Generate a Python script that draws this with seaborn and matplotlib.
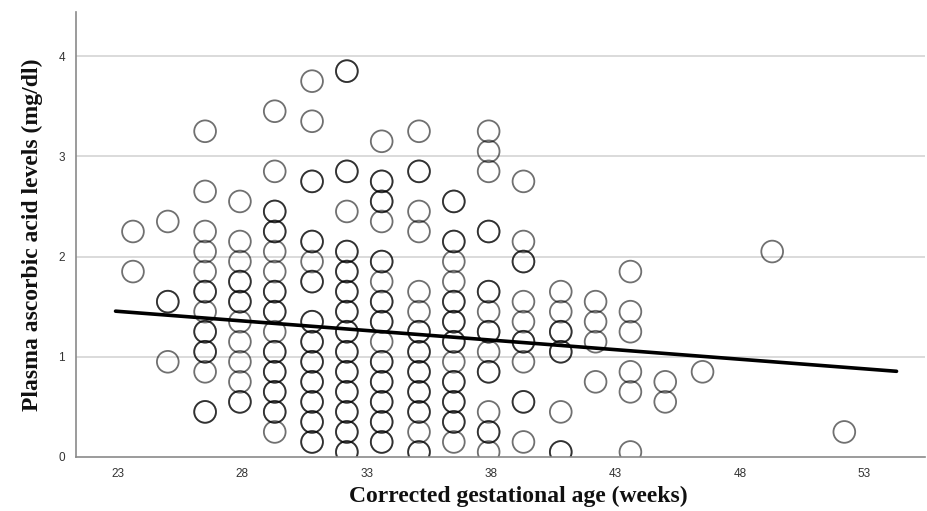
import matplotlib
matplotlib.use("Agg")
import matplotlib.pyplot as plt
import seaborn as sns
import pandas as pd

# Column positions (weeks) and the values read in each column; repeated values = overlapping points
col_23_6 = [2.25, 1.85]
col_25_0 = [2.35, 1.55, 1.55, 0.95]
col_26_5 = [3.25, 2.65, 2.25, 2.05, 1.85, 1.65, 1.65, 1.45, 1.25, 1.25, 1.05, 1.05, 0.85, 0.45, 0.45]
col_27_9 = [2.55, 2.15, 1.95, 1.75, 1.75, 1.55, 1.55, 1.35, 1.15, 0.95, 0.75, 0.55, 0.55]
col_29_3 = [3.45, 2.85, 2.45, 2.45, 2.25, 2.25, 2.05, 1.85, 1.65, 1.65, 1.45, 1.45, 1.25, 1.05, 1.05,
            0.85, 0.85, 0.65, 0.65, 0.45, 0.45, 0.25]
col_30_8 = [3.75, 3.35, 2.75, 2.75, 2.15, 2.15, 1.95, 1.75, 1.75, 1.35, 1.35, 1.15, 1.15, 0.95, 0.95,
            0.75, 0.75, 0.55, 0.55, 0.35, 0.35, 0.15, 0.15]
col_32_2 = [3.85, 3.85, 2.85, 2.85, 2.45, 2.05, 2.05, 1.85, 1.85, 1.65, 1.65, 1.45, 1.45, 1.25, 1.25,
            1.05, 1.05, 0.85, 0.85, 0.65, 0.65, 0.45, 0.45, 0.25, 0.25, 0.05, 0.05]
col_33_6 = [3.15, 2.75, 2.75, 2.55, 2.55, 2.35, 1.95, 1.95, 1.75, 1.55, 1.55, 1.35, 1.35, 1.15, 0.95, 0.95,
            0.75, 0.75, 0.55, 0.55, 0.35, 0.35, 0.15, 0.15]
col_35_1 = [3.25, 2.85, 2.85, 2.45, 2.25, 1.65, 1.45, 1.25, 1.25, 1.05, 1.05, 0.85, 0.85, 0.65, 0.65,
            0.45, 0.45, 0.25, 0.05, 0.05]
col_36_5 = [2.55, 2.55, 2.15, 2.15, 1.95, 1.75, 1.55, 1.55, 1.35, 1.35, 1.15, 1.15, 0.95, 0.75, 0.75,
            0.55, 0.55, 0.35, 0.35, 0.15]
col_37_9 = [3.25, 3.05, 2.85, 2.25, 2.25, 1.65, 1.65, 1.45, 1.25, 1.25, 1.05, 0.85, 0.85, 0.45, 0.25, 0.25, 0.05]
col_39_3 = [2.75, 2.15, 1.95, 1.95, 1.55, 1.35, 1.15, 1.15, 0.95, 0.55, 0.55, 0.15]
col_40_8 = [1.65, 1.45, 1.25, 1.25, 1.05, 1.05, 0.45, 0.05, 0.05]
col_42_2 = [1.55, 1.35, 1.15, 0.75]
col_43_6 = [1.85, 1.45, 1.25, 0.85, 0.65, 0.05]
col_45_0 = [0.75, 0.55]
col_46_5 = [0.85]
col_49_3 = [2.05]
col_52_2 = [0.25]

columns = {
    23.6: col_23_6, 25.0: col_25_0, 26.5: col_26_5, 27.9: col_27_9, 29.3: col_29_3,
    30.8: col_30_8, 32.2: col_32_2, 33.6: col_33_6, 35.1: col_35_1, 36.5: col_36_5,
    37.9: col_37_9, 39.3: col_39_3, 40.8: col_40_8, 42.2: col_42_2, 43.6: col_43_6,
    45.0: col_45_0, 46.5: col_46_5, 49.3: col_49_3, 52.2: col_52_2,
}

# Fitted line endpoints
fit_x = [22.9, 54.3]
fit_y = [1.455, 0.855]

x_ticks = [23, 28, 33, 38, 43, 48, 53]
y_ticks = [0, 1, 2, 3, 4]

rows = [(x, v) for x, vals in columns.items() for v in vals]
df = pd.DataFrame(rows, columns=["age", "ascorbic"])
fit_df = pd.DataFrame({"age": fit_x, "ascorbic": fit_y})

sns.set_theme(style="white")

fig = plt.figure(figsize=(9.27, 5.11), dpi=100)
ax = fig.add_axes([0.082, 0.1057, 0.916, 0.8708])

for yv in y_ticks[1:]:
    ax.axhline(yv, color="#d4d4d4", lw=1.2, zorder=0)

sns.scatterplot(data=df, x="age", y="ascorbic", ax=ax, s=245, marker="o",
                facecolor="none", edgecolor=(0, 0, 0, 0.56), linewidth=1.3, zorder=2)
sns.lineplot(data=fit_df, x="age", y="ascorbic", ax=ax, color="black", lw=2.6, zorder=3)

ax.set_xlim(21.31, 55.45)
ax.set_ylim(0, 4.44)
ax.set_xticks(x_ticks)
ax.set_yticks(y_ticks)
ax.tick_params(axis="both", length=0, labelsize=8.5, labelcolor="#333333", pad=8)
for lab in ax.get_xticklabels() + ax.get_yticklabels():
    lab.set_family(["Liberation Sans", "DejaVu Sans"])

for side in ["top", "right"]:
    ax.spines[side].set_visible(False)
for side in ["left", "bottom"]:
    ax.spines[side].set_color("#8a8a8a")
    ax.spines[side].set_linewidth(1.2)

ax.set_xlabel("Corrected gestational age (weeks)", fontsize=17, fontweight="bold",
              family=["Liberation Serif", "DejaVu Serif"], color="#111111")
ax.xaxis.set_label_coords(0.521, -0.065)
ax.xaxis.label.set_va("top")
ax.set_ylabel("Plasma ascorbic acid levels (mg/dl)", fontsize=17, fontweight="bold",
              family=["Liberation Serif", "DejaVu Serif"], color="#111111", labelpad=11)

fig.savefig("out.png", dpi=100)
